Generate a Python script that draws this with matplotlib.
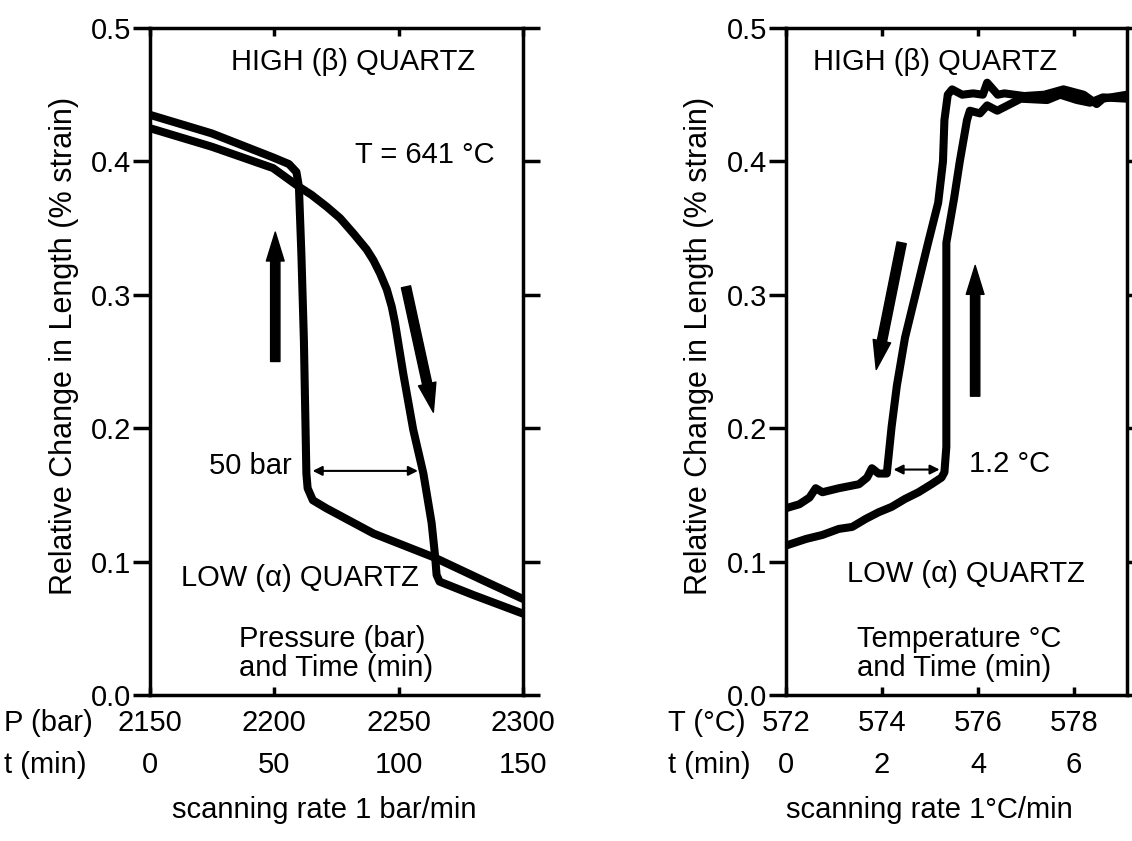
import matplotlib
matplotlib.use("Agg")
import matplotlib.pyplot as plt

plt.rcParams['font.family'] = ['Liberation Sans', 'DejaVu Sans']
plt.rcParams['font.size'] = 21

# ---- left panel: isothermal pressure scan (T = 641 C) ----
p_ticks = [2150, 2200, 2250, 2300]
t_ticks_p = [0, 50, 100, 150]

# increasing pressure (beta -> alpha), arrow down
p_incr = [2150, 2175, 2199.6, 2210, 2215, 2221.2, 2226.5, 2231.9, 2237.2,
          2239.9, 2242.6, 2245.3, 2247.3, 2248.6, 2251.9, 2255.9, 2260,
          2263.3, 2264.7, 2265.3, 2266.5, 2280, 2300]
s_incr = [0.425, 0.411, 0.395, 0.381, 0.375, 0.366, 0.3575, 0.346, 0.334,
          0.326, 0.316, 0.304, 0.291, 0.279, 0.241, 0.199, 0.166,
          0.129, 0.104, 0.090, 0.085, 0.075, 0.061]

# decreasing pressure (alpha -> beta), arrow up
p_decr = [2300, 2285, 2264.5, 2240, 2221, 2215.6, 2213.5, 2213, 2212, 2211,
          2210, 2209, 2206, 2199.6, 2175, 2150]
s_decr = [0.072, 0.085, 0.103, 0.121, 0.140, 0.146, 0.155, 0.166, 0.266, 0.330,
          0.381, 0.392, 0.398, 0.403, 0.421, 0.435]

# ---- right panel: isobaric temperature scan ----
T_ticks = [572, 574, 576, 578]
t_ticks_T = [0, 2, 4, 6]

# heating (alpha -> beta), arrow up
T_heat = [572.0, 572.42, 572.76, 573.1, 573.38, 573.66, 573.93, 574.2, 574.48,
          574.76, 575.03, 575.24, 575.3, 575.34, 575.34, 575.5, 575.62, 575.77,
          575.83, 576.04, 576.19, 576.4, 576.89, 577.44, 577.71, 578.06,
          578.33, 578.6, 579.1]
s_heat = [0.112, 0.117, 0.120, 0.1245, 0.126, 0.132, 0.137, 0.141, 0.147,
          0.152, 0.158, 0.163, 0.167, 0.186, 0.339, 0.372, 0.400, 0.431,
          0.438, 0.436, 0.442, 0.438, 0.447, 0.446, 0.450, 0.446,
          0.444, 0.448, 0.447]

# cooling (beta -> alpha), arrow down
T_cool = [579.1, 578.6, 578.47, 578.2, 577.78, 577.38, 576.96, 576.55, 576.41,
          576.19, 576.1, 575.9, 575.67, 575.46, 575.37, 575.3, 575.27, 575.17,
          574.96, 574.69, 574.48, 574.31, 574.2, 574.1, 573.93, 573.79, 573.69,
          573.52, 573.1, 572.76, 572.62, 572.49, 572.28, 572.0]
s_cool = [0.450, 0.447, 0.443, 0.450, 0.454, 0.450, 0.449, 0.451, 0.450,
          0.459, 0.450, 0.451, 0.450, 0.454, 0.450, 0.431, 0.400, 0.369,
          0.339, 0.299, 0.268, 0.232, 0.201, 0.166, 0.166, 0.170, 0.163,
          0.158, 0.155, 0.152, 0.155, 0.148, 0.143, 0.140]

y_ticks = [0.0, 0.1, 0.2, 0.3, 0.4, 0.5]

LW_CURVE = 5.8
LW_AX = 2.5
XPAD = 10

fig = plt.figure(figsize=(11.32, 8.41), dpi=100)
ax1 = fig.add_axes([0.1321, 0.1736, 0.3299, 0.7931])
ax2 = fig.add_axes([0.6943, 0.1736, 0.3012, 0.7931])


def style_axes(ax, xticks, tticks, xlim, label_x):
    ax.set_xlim(*xlim)
    ax.set_ylim(0, 0.5)
    for sp in ax.spines.values():
        sp.set_linewidth(LW_AX)
    ax.set_yticks(y_ticks)
    ax.set_yticklabels([f"{v:.1f}" for v in y_ticks])
    ax.tick_params(axis='y', direction='out', left=True, right=True,
                   length=12, width=LW_AX, pad=1.5)
    ax.set_xticks(xticks)
    ax.set_xticklabels([f"{a}\n{b}" for a, b in zip(xticks, tticks)],
                       linespacing=1.65)
    ax.tick_params(axis='x', direction='in', top=True, bottom=True,
                   length=6, width=LW_AX, pad=XPAD)
    ax.set_ylabel("Relative Change in Length (% strain)", fontsize=22)
    ax.yaxis.set_label_coords(label_x, 0.523)


def big_arrow(ax, start, end):
    ax.annotate("", xy=end, xytext=start,
                arrowprops=dict(arrowstyle="simple,head_length=1.3,head_width=0.8,tail_width=0.42",
                                mutation_scale=16, fc="black", ec="black",
                                shrinkA=0, shrinkB=0))


def span_arrow(ax, x0, x1, y):
    ax.annotate("", xy=(x1, y), xytext=(x0, y),
                arrowprops=dict(arrowstyle="<|-|>", lw=1.5, color="black",
                                mutation_scale=14, shrinkA=0, shrinkB=0))


# left panel
style_axes(ax1, p_ticks, t_ticks_p, (2150, 2300), -0.19)
ax1.plot(p_incr, s_incr, color="black", lw=LW_CURVE, solid_joinstyle="round")
ax1.plot(p_decr, s_decr, color="black", lw=LW_CURVE, solid_joinstyle="round")
big_arrow(ax1, (2200.5, 0.250), (2200.5, 0.347))
big_arrow(ax1, (2253, 0.306), (2264, 0.212))
span_arrow(ax1, 2215.5, 2257.8, 0.168)
ax1.text(2207, 0.172, "50 bar", ha="right", va="center")
ax1.text(2231.7, 0.4745, "HIGH (\u03b2) QUARTZ", ha="center", va="center")
ax1.text(2260.4, 0.405, "T = 641 \u00b0C", ha="center", va="center")
ax1.text(2210.4, 0.088, "LOW (\u03b1) QUARTZ", ha="center", va="center")
ax1.text(2186, 0.031, "Pressure (bar)\nand Time (min)", ha="left",
         va="center", linespacing=1.05)

# right panel
style_axes(ax2, T_ticks, t_ticks_T, (572, 579.1), -0.21)
ax2.plot(T_heat, s_heat, color="black", lw=LW_CURVE, solid_joinstyle="round")
ax2.plot(T_cool, s_cool, color="black", lw=LW_CURVE, solid_joinstyle="round")
big_arrow(ax2, (574.41, 0.339), (573.88, 0.244))
big_arrow(ax2, (575.94, 0.224), (575.94, 0.322))
span_arrow(ax2, 574.24, 575.2, 0.169)
ax2.text(576.66, 0.173, "1.2 \u00b0C", ha="center", va="center")
ax2.text(575.1, 0.4745, "HIGH (\u03b2) QUARTZ", ha="center", va="center")
ax2.text(575.75, 0.091, "LOW (\u03b1) QUARTZ", ha="center", va="center")
ax2.text(573.48, 0.031, "Temperature \u00b0C\nand Time (min)", ha="left",
         va="center", linespacing=1.05)

# row headers for the two-line tick labels
y_rows = 0.1736 - XPAD / 72 * 100 / 841
fig.text(4 / 1132, y_rows, "P (bar)\nt (min)", ha="left", va="top",
         linespacing=1.65)
fig.text(668 / 1132, y_rows, "T (\u00b0C)\nt (min)", ha="left", va="top",
         linespacing=1.65)

fig.text(324 / 1132, 1 - 810 / 841, "scanning rate 1 bar/min", ha="center",
         va="center")
fig.text(929 / 1132, 1 - 810 / 841, "scanning rate 1\u00b0C/min", ha="center",
         va="center")

fig.savefig("out.png", dpi=100)
